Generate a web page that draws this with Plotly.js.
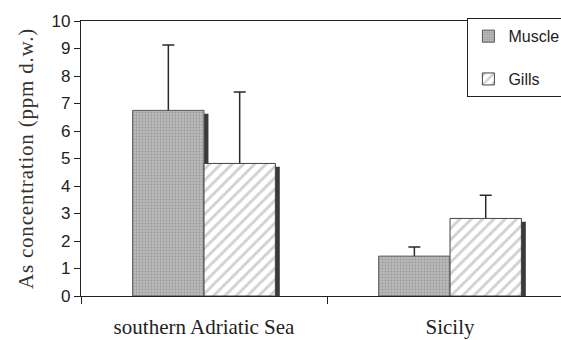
<!DOCTYPE html>
<html>
<head>
<meta charset="utf-8">
<script src="https://cdn.plot.ly/plotly-3.0.1.min.js"></script>
<style>
html,body{margin:0;padding:0;overflow:hidden;background:#fff}
.ytitle{letter-spacing:0.8px}
</style>
</head>
<body>
<div id="chart" style="width:561px;height:340px"></div>
<script>
const categories = ["southern Adriatic Sea", "Sicily"];
const muscle = [6.75, 1.45];
const muscleErr = [2.38, 0.33];
const gills = [4.82, 2.82];
const gillsErr = [2.6, 0.84];
const yTicks = [0,1,2,3,4,5,6,7,8,9,10];

const BW = 0.29;
const SHIFT = 0.018;
const DROP = 0.12;
const SINK = 0.06;
const shadowColor = "#3a3a3a";

function shadow(vals, off) {
  return {
    type: "bar", x: categories, y: vals.map(v => v - DROP),
    offset: off + SHIFT, width: BW,
    marker: {color: shadowColor, line: {width: 0}},
    showlegend: false, hoverinfo: "skip"
  };
}
// transparent carrier drawn beneath the real bar, so the lower cap of the
// error bar is hidden inside the bar
function errCarrier(vals, errs, off) {
  return {
    type: "bar", x: categories, y: vals.map(v => v - SINK), offset: off, width: BW,
    marker: {color: "rgba(0,0,0,0)", line: {width: 0}},
    showlegend: false, hoverinfo: "skip",
    error_y: {type: "data", symmetric: false, array: errs.map(e => e + SINK),
      arrayminus: vals.map(() => 0), color: "#2a2a2a", thickness: 1.5, width: 6}
  };
}

const traces = [
  shadow(muscle, -BW),
  errCarrier(muscle, muscleErr, -BW),
  {
    type: "bar", name: "Muscle", x: categories, y: muscle,
    offset: -BW, width: BW, legendgroup: "a",
    marker: {color: "#b4b4b4", line: {color: "#555", width: 1},
      pattern: {shape: ".", fgcolor: "#9a9a9a", bgcolor: "#bababa", size: 3, solidity: 0.3}}
  },
  shadow(gills, 0),
  errCarrier(gills, gillsErr, 0),
  {
    type: "bar", name: "Gills", x: categories, y: gills,
    offset: 0, width: BW, legendgroup: "b",
    marker: {color: "#ffffff", line: {color: "#444", width: 1},
      pattern: {shape: "/", fgcolor: "#d0d0d0", bgcolor: "#ffffff", size: 8, solidity: 0.35}}
  }
];

const layout = {
  width: 561, height: 340,
  margin: {l: 81, r: 0, t: 21, b: 44, autoexpand: false},
  paper_bgcolor: "#fff", plot_bgcolor: "#fff",
  barmode: "overlay",
  showlegend: true,
  legend: {
    x: 0.805, y: 1.01, xanchor: "left", yanchor: "top",
    bordercolor: "#222", borderwidth: 1, bgcolor: "#fff",
    font: {family: "Liberation Sans, Arial, sans-serif", size: 16, color: "#222"},
    traceorder: "grouped", tracegroupgap: 19, itemwidth: 30
  },
  xaxis: {
    type: "category", range: [-0.5, 1.451], automargin: false,
    showline: true, linecolor: "#222", linewidth: 1.2, mirror: true,
    ticks: "outside", ticklen: 7, tickcolor: "#222", tickson: "boundaries",
    ticklabelstandoff: 12,
    showgrid: false, zeroline: false,
    tickfont: {family: "Liberation Serif, Times New Roman, serif", size: 21, color: "#222"}
  },
  yaxis: {
    range: [0, 10], tickvals: yTicks, ticktext: yTicks.map(String), automargin: false,
    showline: true, linecolor: "#222", linewidth: 1.2,
    ticks: "outside", ticklen: 6, tickcolor: "#222",
    showgrid: false, zeroline: false,
    tickfont: {family: "Liberation Sans, Arial, sans-serif", size: 17, color: "#222"},
    title: {text: "As concentration (ppm d.w.)", standoff: 12,
      font: {family: "Liberation Serif, Times New Roman, serif", size: 21, color: "#333"}}
  }
};

Plotly.newPlot("chart", traces, layout, {displayModeBar: false, staticPlot: true});
</script>
</body>
</html>
